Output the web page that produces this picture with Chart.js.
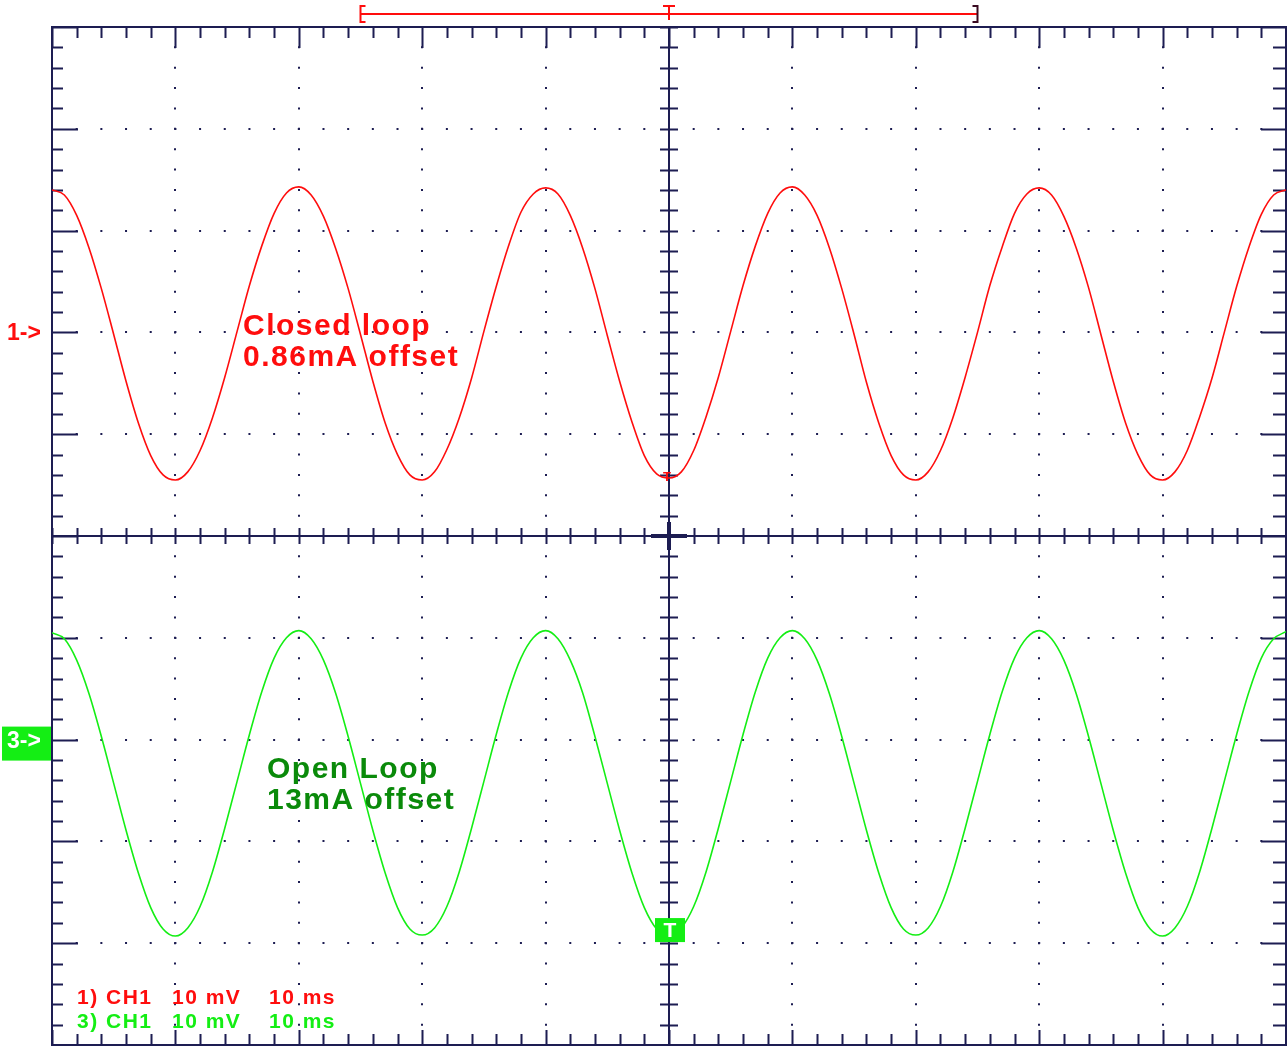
<!DOCTYPE html>
<html>
<head>
<meta charset="utf-8">
<script src="https://cdn.jsdelivr.net/npm/chart.js@4.4.0/dist/chart.umd.min.js"></script>
<style>
  html, body { margin: 0; padding: 0; background: #fff; }
  #wrap { position: relative; width: 1287px; height: 1046px; }
</style>
</head>
<body>
<div id="wrap"><canvas id="scope" width="1287" height="1046"></canvas></div>
<script>
// sample clock, 1 ms per sample over 10 divisions of 10 ms
const sampleStepMs = 1;
const sampleCount = 101;

// channel 1, closed loop (mV, 10 mV/div)
const ch1ClosedLoop = [
  34.0, 33.5, 31.5, 28.3, 24.3, 19.8, 15.2, 11.1, 7.9, 6.0, 5.5,
  6.3, 8.4, 11.6, 15.6, 20.1, 24.6, 28.5, 31.7, 33.7, 34.3,
  33.5, 31.4, 28.2, 24.3, 19.8, 15.2, 11.1, 8.0, 6.0, 5.5,
  6.3, 8.5, 11.6, 15.5, 20.1, 24.5, 28.5, 31.8, 33.6, 34.2,
  33.6, 31.5, 28.3, 24.3, 19.7, 15.2, 11.2, 7.9, 6.1, 5.7,
  6.3, 8.4, 11.7, 15.6, 20.1, 24.6, 28.5, 31.7, 33.7, 34.3,
  33.5, 31.5, 28.3, 24.3, 19.8, 15.1, 11.1, 7.9, 6.0, 5.5,
  6.3, 8.4, 11.6, 15.6, 20.0, 24.6, 28.4, 31.7, 33.6, 34.2,
  33.5, 31.4, 28.3, 24.4, 19.8, 15.2, 11.1, 8.0, 6.0, 5.5,
  6.3, 8.4, 11.7, 15.5, 20.0, 24.5, 28.4, 31.6, 33.5, 34.0
];

// channel 3, open loop (mV, 10 mV/div)
const ch3OpenLoop = [
  -9.5, -10.1, -12.2, -15.5, -19.7, -24.3, -28.9, -33.1, -36.5, -38.6, -39.3,
  -38.5, -36.4, -33.0, -28.7, -24.1, -19.5, -15.3, -12.0, -10.0, -9.3,
  -10.1, -12.2, -15.5, -19.7, -24.3, -28.9, -33.1, -36.5, -38.6, -39.2,
  -38.5, -36.4, -33.0, -28.7, -24.1, -19.5, -15.3, -12.0, -10.0, -9.3,
  -10.1, -12.2, -15.4, -19.7, -24.3, -28.9, -33.1, -36.5, -38.6, -39.3,
  -38.5, -36.4, -33.0, -28.7, -24.1, -19.5, -15.3, -12.0, -10.0, -9.3,
  -10.1, -12.2, -15.5, -19.7, -24.3, -28.9, -33.1, -36.5, -38.6, -39.2,
  -38.5, -36.4, -33.0, -28.7, -24.1, -19.5, -15.3, -12.0, -10.0, -9.3,
  -10.1, -12.2, -15.5, -19.7, -24.3, -28.9, -33.1, -36.5, -38.6, -39.3,
  -38.5, -36.4, -33.0, -28.7, -24.1, -19.5, -15.3, -12.0, -10.1, -9.4
];

const timeDivMs = 10;
const voltDivMv = 10;
const ch1RefMv = 20;   // "1->" marker
const ch3RefMv = -20;  // "3->" marker
const triggerMs = 50;
const memoryWindowMs = [25, 75];

const frameColor = '#1d1d52';
const red = '#ff0d0d';
const green = '#14ee14';
const darkGreen = '#0a8a0a';

const timeMs = Array.from({ length: sampleCount }, (_, i) => i * sampleStepMs);
const toPoints = (vals) => vals.map((v, i) => ({ x: timeMs[i], y: v }));

const scopeDecor = {
  id: 'scopeDecor',
  beforeDatasetsDraw(chart) {
    const { ctx, chartArea: a, scales: { x, y } } = chart;
    const cx = x.getPixelForValue(triggerMs);
    const cy = y.getPixelForValue(0);
    ctx.save();
    ctx.strokeStyle = frameColor;
    ctx.lineWidth = 2;
    ctx.strokeRect(a.left, a.top, a.width, a.height);
    ctx.beginPath();
    ctx.moveTo(cx, a.top); ctx.lineTo(cx, a.bottom);
    ctx.moveTo(a.left, cy); ctx.lineTo(a.right, cy);
    // time ticks
    for (let t = 0; t <= 100; t += 2) {
      const px = Math.round(x.getPixelForValue(t)) + 0.5;
      const major = t % timeDivMs === 0;
      ctx.moveTo(px, a.top); ctx.lineTo(px, a.top + (major ? 21 : 11));
      ctx.moveTo(px, a.bottom); ctx.lineTo(px, a.bottom - (major ? 15 : 11));
      ctx.moveTo(px, cy - 8); ctx.lineTo(px, cy + 8);
    }
    // volt ticks
    for (let v = -50; v <= 50; v += 2) {
      const py = Math.round(y.getPixelForValue(v)) + 0.5;
      const major = v % voltDivMv === 0;
      ctx.moveTo(a.left, py); ctx.lineTo(a.left + (major ? 26 : 11), py);
      ctx.moveTo(a.right, py); ctx.lineTo(a.right - (major ? 25 : 13), py);
      ctx.moveTo(cx - 9, py); ctx.lineTo(cx + 9, py);
    }
    ctx.stroke();
    // bolder centre cross
    ctx.lineWidth = 4;
    ctx.beginPath();
    ctx.moveTo(cx, cy - 14); ctx.lineTo(cx, cy + 14);
    ctx.moveTo(cx - 18, cy); ctx.lineTo(cx + 18, cy);
    ctx.stroke();
    ctx.restore();
  },
  afterDraw(chart) {
    const { ctx, scales: { x, y } } = chart;
    ctx.save();
    // memory bar at the top
    const bx1 = x.getPixelForValue(memoryWindowMs[0]);
    const bx2 = x.getPixelForValue(memoryWindowMs[1]);
    const tx = x.getPixelForValue(triggerMs);
    ctx.strokeStyle = red;
    ctx.lineWidth = 2;
    ctx.beginPath();
    ctx.moveTo(bx1, 14); ctx.lineTo(bx2, 14);
    ctx.moveTo(bx1 + 5, 6); ctx.lineTo(bx1, 6); ctx.lineTo(bx1, 22); ctx.lineTo(bx1 + 5, 22);
    ctx.moveTo(tx - 6, 6); ctx.lineTo(tx + 6, 6);
    ctx.moveTo(tx, 6); ctx.lineTo(tx, 20);
    ctx.stroke();
    ctx.strokeStyle = '#3a0a20';
    ctx.beginPath();
    ctx.moveTo(bx2 - 5, 6); ctx.lineTo(bx2, 6); ctx.lineTo(bx2, 22); ctx.lineTo(bx2 - 5, 22);
    ctx.stroke();

    // channel reference markers
    ctx.textBaseline = 'middle';
    ctx.font = 'bold 23px "Liberation Sans", Arial, sans-serif';
    ctx.fillStyle = red;
    ctx.fillText('1->', 7, y.getPixelForValue(ch1RefMv) + 1);
    const m3 = y.getPixelForValue(ch3RefMv);
    ctx.fillStyle = green;
    ctx.fillRect(2, m3 - 13, 49, 34);
    ctx.fillStyle = '#fff';
    ctx.fillText('3->', 7, m3 + 2);

    // trigger markers
    const trigY3 = y.getPixelForValue(-39.3);
    ctx.fillStyle = green;
    ctx.fillRect(tx - 14, trigY3 - 18, 30, 24);
    ctx.fillStyle = '#fff';
    ctx.textAlign = 'center';
    ctx.font = 'bold 21px "Liberation Sans", Arial, sans-serif';
    ctx.fillText('T', tx + 1, trigY3 - 5);
    ctx.fillStyle = red;
    ctx.font = 'bold 13px "Liberation Sans", Arial, sans-serif';
    ctx.fillText('T', tx - 2, y.getPixelForValue(5.7) - 1);

    // annotations
    ctx.textAlign = 'left';
    ctx.textBaseline = 'alphabetic';
    ctx.font = 'bold 30px "Liberation Sans", Arial, sans-serif';
    ctx.letterSpacing = '1.5px';
    ctx.fillStyle = red;
    ctx.fillText('Closed loop', 243, 335);
    ctx.fillText('0.86mA offset', 243, 366);
    ctx.fillStyle = darkGreen;
    ctx.fillText('Open Loop', 267, 778);
    ctx.fillText('13mA offset', 267, 809);

    // channel settings
    ctx.font = 'bold 21px "Liberation Sans", Arial, sans-serif';
    ctx.letterSpacing = '1.5px';
    const rows = [[red, '1)', 1004], [green, '3)', 1028]];
    rows.forEach(([c, n, by]) => {
      ctx.fillStyle = c;
      ctx.fillText(n, 77, by);
      ctx.fillText('CH1', 106, by);
      ctx.fillText(voltDivMv + ' mV', 172, by);
      ctx.fillText(timeDivMs + ' ms', 269, by);
    });
    ctx.restore();
  }
};

new Chart(document.getElementById('scope'), {
  type: 'line',
  data: {
    datasets: [
      {
        label: 'Closed loop',
        data: toPoints(ch1ClosedLoop),
        borderColor: red,
        borderWidth: 1.6,
        pointRadius: 0,
        cubicInterpolationMode: 'monotone',
      },
      {
        label: 'Open Loop',
        data: toPoints(ch3OpenLoop),
        borderColor: green,
        borderWidth: 1.6,
        pointRadius: 0,
        cubicInterpolationMode: 'monotone',
      }
    ]
  },
  options: {
    responsive: false,
    animation: false,
    devicePixelRatio: 1,
    layout: { padding: { left: 52, top: 27, right: 1, bottom: 1 } },
    plugins: {
      legend: { display: false },
      tooltip: { enabled: false },
    },
    scales: {
      x: {
        type: 'linear',
        min: 0,
        max: 100,
        ticks: { display: false, stepSize: timeDivMs },
        grid: { color: frameColor, lineWidth: 2, drawTicks: false },
        border: { display: false, dash: [2, 1018 / 50 - 2], dashOffset: 1 },
      },
      y: {
        min: -50,
        max: 50,
        ticks: { display: false, stepSize: voltDivMv },
        grid: { color: frameColor, lineWidth: 2, drawTicks: false },
        border: { display: false, dash: [2, 1234 / 50 - 2], dashOffset: 1 },
      }
    }
  },
  plugins: [scopeDecor]
});
</script>
</body>
</html>
